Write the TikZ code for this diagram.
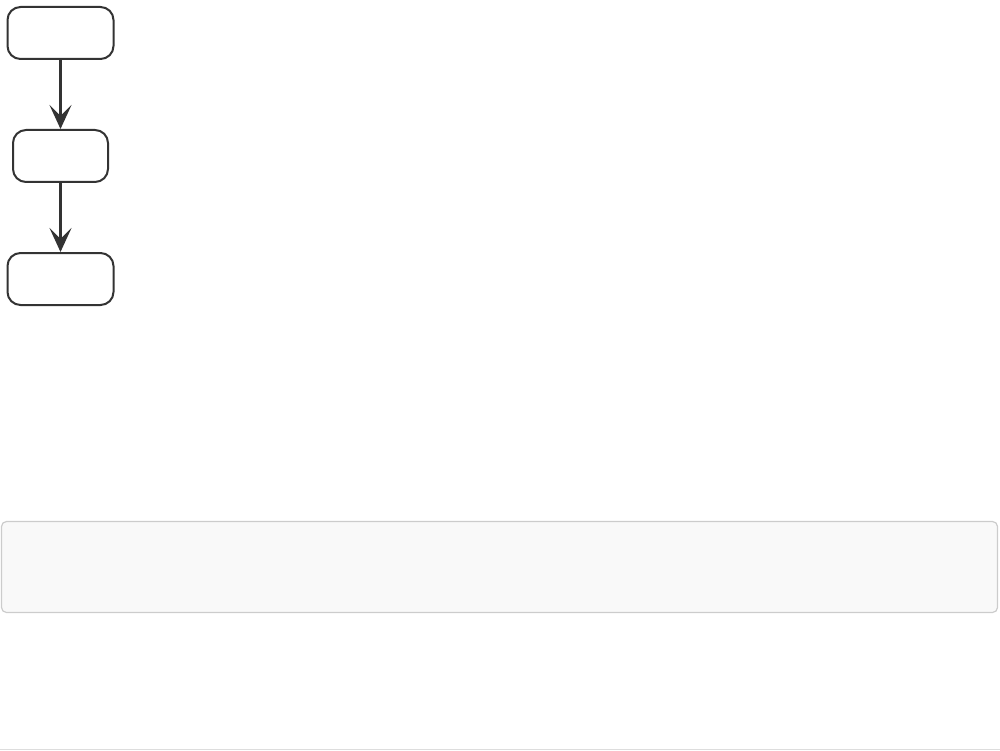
\documentclass[tikz,border=0pt]{standalone}
\usetikzlibrary{arrows.meta,
                positioning}
\definecolor{nodeline}{HTML}{333333}
\definecolor{panelfill}{HTML}{F9F9F9}
\definecolor{panelline}{HTML}{CCCCCC}
\definecolor{ruleline}{HTML}{DDDDDD}
\tikzset{block/.style =
   {rectangle,
    draw=nodeline,
    line width=2pt,
    rounded corners=13pt,
    minimum width=106pt,
    minimum height=52pt,
    inner sep=0pt}}
\tikzset{panel/.style =
   {rectangle,
    draw=panelline,
    fill=panelfill,
    line width=1.2pt,
    rounded corners=5pt,
    minimum width=996pt,
    minimum height=91pt,
    inner sep=0pt}}
\tikzset{arrow/.style = {draw=nodeline, line width=2.7pt,
    -{Stealth[length=24pt, width=22pt, inset=11pt]}}}

\begin{document}
\begin{tikzpicture}[x=1pt, y=1pt]

    \useasboundingbox (0,0) rectangle (1000,-751);

    \node [block] (first) at (60.5,-33) {};

    \node [block,
           minimum width=95pt,
           below = 69pt of first] (second) {};

    \node [block,
           below = 69pt of second] (third) {};

    \draw [arrow] (first) -- (second);
    \draw [arrow] (second) -- (third);

    \node [panel] (note) at (499.5,-567) {};

    \coordinate (ruleleft) at (0,-749.5);
    \coordinate (ruleright) at (1000,-749.5);
    \draw [ruleline, line width=1.2pt] (ruleleft) -- (ruleright);

\end{tikzpicture}
\end{document}
